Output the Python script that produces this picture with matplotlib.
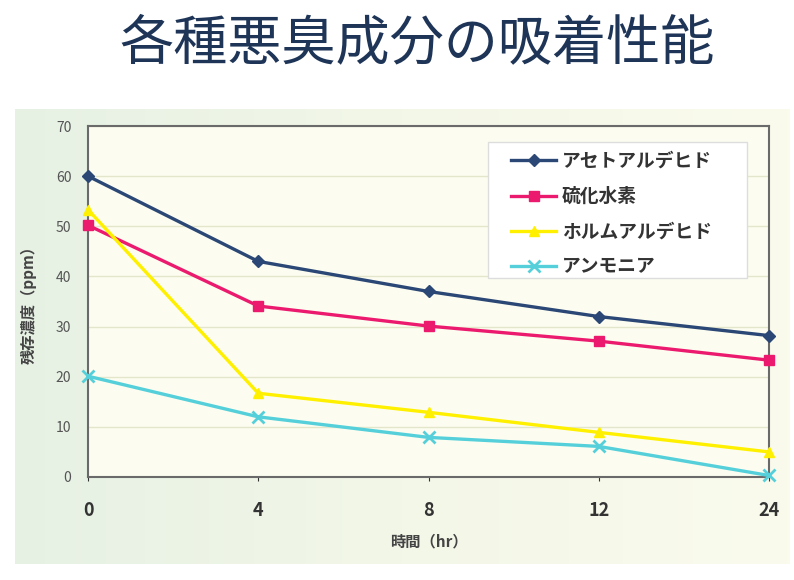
import numpy as np
import matplotlib.pyplot as plt
from matplotlib.colors import LinearSegmentedColormap
from matplotlib.patches import Rectangle

plt.rcParams['font.family'] = ['Noto Sans CJK JP', 'DejaVu Sans']

# データ
hours = ['0', '4', '8', '12', '24']
acetaldehyde = [60, 43, 37, 32, 28.2]
h2s = [50.2, 34.1, 30.1, 27.1, 23.3]
formaldehyde = [53.3, 16.7, 12.9, 8.9, 5.0]
ammonia = [20.1, 12.0, 7.9, 6.1, 0.3]

series_names = ['アセトアルデヒド', '硫化水素', 'ホルムアルデヒド', 'アンモニア']
series_values = [acetaldehyde, h2s, formaldehyde, ammonia]
colors = ['#2B4775', '#EC1A6E', '#FFF000', '#55D0DA']
markers = ['D', 's', '^', 'x']
msizes = [6.5, 6.5, 7.5, 9]

W, H = 794, 580
fig = plt.figure(figsize=(W / 100, H / 100), dpi=100)
fig.patch.set_facecolor('white')

# 背景パネル(薄い緑→クリームのグラデーション)
bg = fig.add_axes([15 / W, 1 - 564 / H, (790 - 15) / W, (564 - 109) / H], zorder=0)
cmap = LinearSegmentedColormap.from_list('panel', ['#E6F1E4', '#F3F7E8', '#FAFBEC'])
bg.imshow(np.linspace(0, 1, 256).reshape(1, -1), aspect='auto', cmap=cmap,
          extent=[0, 1, 0, 1])
bg.axis('off')

ax = fig.add_axes([88 / W, 1 - 477 / H, (769 - 88) / W, (477 - 126) / H], zorder=1)
ax.set_facecolor('#FCFDF0')

x = np.arange(len(hours))
for name, vals, c, m, ms in zip(series_names, series_values, colors, markers, msizes):
    ax.plot(x, vals, color=c, marker=m, markersize=ms, linewidth=2.4,
            markeredgewidth=2 if m == 'x' else 1, label=name, clip_on=False, zorder=3)

ax.set_xlim(0, len(hours) - 1)
ax.set_ylim(0, 70)
ax.set_yticks(range(0, 71, 10))
ax.set_xticks(x)
ax.set_xticklabels(hours)
ax.grid(axis='y', color='#E4E6CC', linewidth=1)
ax.set_axisbelow(True)

for s in ax.spines.values():
    s.set_color('#6A6A6A')
    s.set_linewidth(1.5)

ax.tick_params(axis='y', labelsize=10, colors='#555555', length=0, pad=12)
ax.tick_params(axis='x', labelsize=13, colors='#333333', length=3, pad=14)
for lbl in ax.get_xticklabels():
    lbl.set_fontweight('bold')

ax.set_xlabel('時間（hr）', fontsize=11, color='#444444', fontweight='bold', labelpad=10)
ax.set_ylabel('残存濃度（ppm）', fontsize=11, color='#444444', fontweight='bold', labelpad=14)

# 凡例の枠
ax.add_patch(Rectangle((488 / W, 1 - 278 / H), (747 - 488) / W, (278 - 142) / H,
                       transform=fig.transFigure, facecolor='white', edgecolor='#DDDDDD',
                       linewidth=1, clip_on=False, zorder=4))
leg = ax.legend(loc='upper left', bbox_to_anchor=(511 / W, 1 - 152 / H),
                bbox_transform=fig.transFigure, fontsize=13.5, frameon=False,
                handlelength=2.4, labelspacing=0.86, borderpad=0, handletextpad=0.3,
                borderaxespad=0)
for t in leg.get_texts():
    t.set_color('#333333')
    t.set_fontweight('bold')

fig.text(417 / W, 1 - 44 / H, '各種悪臭成分の吸着性能', ha='center', va='center',
         fontsize=39, color='#1E3558')

fig.savefig('out.png', dpi=100)
